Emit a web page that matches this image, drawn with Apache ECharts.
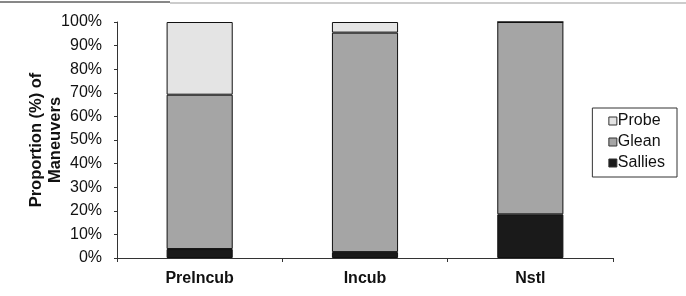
<!DOCTYPE html>
<html>
<head>
<meta charset="utf-8">
<script src="https://cdn.jsdelivr.net/npm/echarts@6/dist/echarts.min.js"></script>
<style>
  html, body { margin: 0; padding: 0; background: #fff; }
  #chart { width: 686px; height: 296px; }
</style>
</head>
<body>
<div id="chart"></div>
<script>
// stages on the x axis
const stages = ["PreIncub", "Incub", "Nstl"];
// percent of maneuvers per stage
const sallies = [3.8, 2.5, 18.5];
const glean = [65.4, 93.0, 81.5];
const probe = [30.8, 4.5, 0];
const yTicks = [0, 10, 20, 30, 40, 50, 60, 70, 80, 90, 100];

const font = "Liberation Sans, Arial, sans-serif";
const myChart = echarts.init(document.getElementById("chart"));

const barStyle = (color) => ({
  color: color,
  borderColor: "#111",
  borderWidth: 1,
});

const option = {
  animation: false,
  backgroundColor: "#fff",
  grid: { left: 117, right: 73, top: 22, bottom: 38 },
  legend: {
    orient: "vertical",
    right: 9,
    top: 108,
    data: ["Probe", "Glean", "Sallies"],
    itemWidth: 8,
    itemHeight: 8,
    itemGap: 5,
    padding: [5, 12, 6, 16],
    borderColor: "#333",
    borderWidth: 1,
    icon: "rect",
    itemStyle: { borderColor: "#333", borderWidth: 1 },
    textStyle: { fontFamily: font, fontSize: 16, color: "#111", padding: [0, 0, 0, -4] },
  },
  xAxis: {
    type: "category",
    data: stages,
    axisLine: { lineStyle: { color: "#333", width: 1 } },
    axisTick: { show: true, length: 4, lineStyle: { color: "#333" } },
    axisLabel: { fontFamily: font, fontSize: 16, fontWeight: "bold", color: "#111", margin: 13 },
  },
  yAxis: {
    type: "value",
    min: 0,
    max: 100,
    interval: 10,
    name: "Proportion (%) of\nManeuvers",
    nameLocation: "middle",
    nameGap: 52,
    nameMoveOverlap: false,
    nameTextStyle: { fontFamily: font, fontSize: 16.5, fontWeight: "bold", color: "#111", lineHeight: 19 },
    axisLine: { show: true, lineStyle: { color: "#333", width: 1 } },
    axisTick: { show: true, length: 3, lineStyle: { color: "#333" } },
    splitLine: { show: false },
    axisLabel: {
      fontFamily: font, fontSize: 16, color: "#111", margin: 15,
      formatter: (v) => (yTicks.includes(v) ? v + "%" : ""),
    },
  },
  series: [
    { name: "Sallies", type: "bar", stack: "s", barWidth: "40%", data: sallies, itemStyle: barStyle("#1a1a1a") },
    { name: "Glean", type: "bar", stack: "s", data: glean, itemStyle: barStyle("#a5a5a5") },
    { name: "Probe", type: "bar", stack: "s", data: probe, itemStyle: barStyle("#e4e4e4") },
  ],
  graphic: [
    { type: "line", shape: { x1: 0, y1: 2, x2: 170, y2: 2 }, style: { stroke: "#111", lineWidth: 1 } },
    { type: "line", shape: { x1: 170, y1: 3, x2: 686, y2: 3 }, style: { stroke: "#999", lineWidth: 1 } },
  ],
};

myChart.setOption(option, true);
</script>
</body>
</html>
